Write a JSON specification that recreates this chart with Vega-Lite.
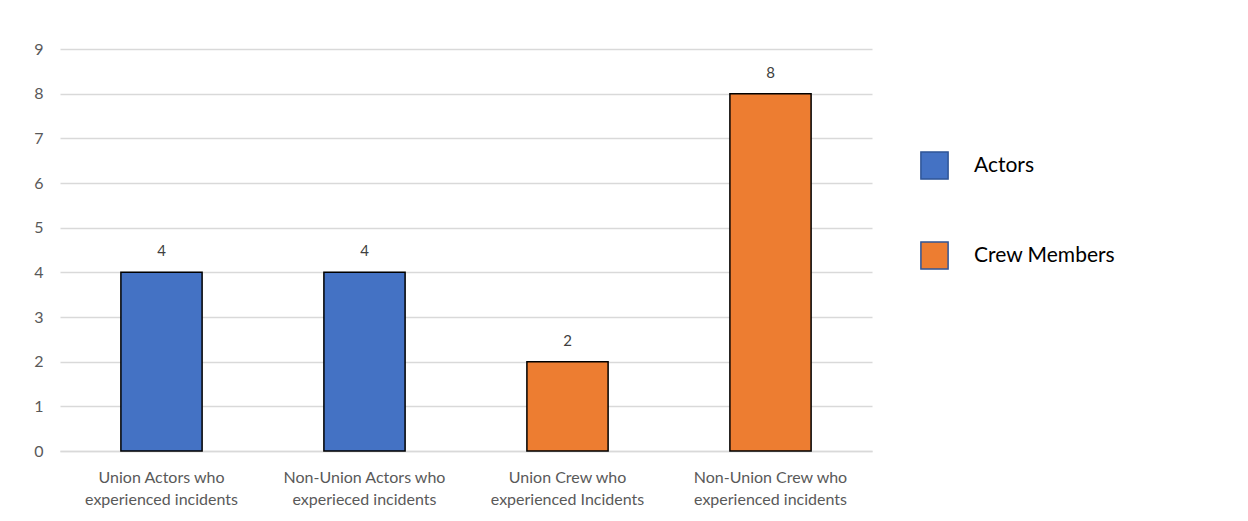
{
  "$schema": "https://vega.github.io/schema/vega-lite/v6.json",
  "autosize": {"type": "none"},
  "padding": {"left": 60, "top": 49, "right": 376, "bottom": 70},
  "width": 812,
  "height": 402,
  "background": "white",
  "config": {
    "view": {"stroke": null},
    "font": "Lato"
  },
  "data": {
    "values": [
      {"category": "Union Actors who\nexperienced incidents", "group": "Actors", "count": 4},
      {"category": "Non-Union Actors who\nexperieced incidents", "group": "Actors", "count": 4},
      {"category": "Union Crew who\nexperienced Incidents", "group": "Crew Members", "count": 2},
      {"category": "Non-Union Crew who\nexperienced incidents", "group": "Crew Members", "count": 8}
    ]
  },
  "encoding": {
    "x": {
      "field": "category", "type": "nominal", "sort": null,
      "scale": {"paddingInner": 0.6, "paddingOuter": 0.3},
      "axis": {
        "title": null, "labelAngle": 0, "ticks": false,
        "domainColor": "#d9d9d9", "domainWidth": 1.5,
        "labelFontSize": 16, "labelColor": "#595959",
        "labelPadding": 18, "labelLineHeight": 22,
        "labelExpr": "split(datum.value, '\\n')"
      }
    },
    "y": {
      "field": "count", "type": "quantitative",
      "scale": {"domain": [0, 9]},
      "axis": {
        "title": null, "values": [0,1,2,3,4,5,6,7,8,9],
        "domain": false, "ticks": false, "labelOverlap": false,
        "gridColor": "#d9d9d9", "gridWidth": 1.5,
        "labelFontSize": 16, "labelColor": "#595959", "labelPadding": 17
      }
    }
  },
  "layer": [
    {
      "mark": {"type": "bar", "stroke": "black", "strokeWidth": 1.5},
      "encoding": {
        "color": {
          "field": "group", "type": "nominal",
          "scale": {"domain": ["Actors", "Crew Members"], "range": ["#4472C4", "#ED7D31"]},
          "legend": {
            "title": null, "orient": "none", "legendX": 860, "legendY": 102,
            "symbolType": "square", "symbolSize": 740,
            "symbolStrokeColor": "#2F5597", "symbolStrokeWidth": 1.5,
            "labelFontSize": 21, "labelColor": "#000000", "labelOffset": 25,
            "rowPadding": 55
          }
        }
      }
    },
    {
      "mark": {"type": "text", "dy": -21, "fontSize": 15, "color": "#404040"},
      "encoding": {
        "text": {"field": "count", "type": "quantitative"}
      }
    }
  ]
}
